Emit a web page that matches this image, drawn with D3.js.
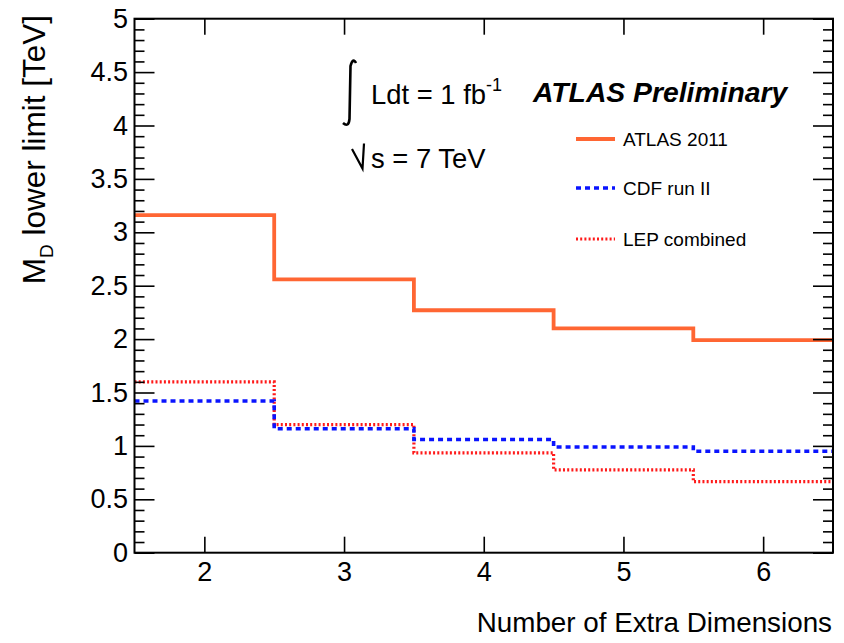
<!DOCTYPE html>
<html>
<head>
<meta charset="utf-8">
<script src="https://cdn.jsdelivr.net/npm/d3@7"></script>
<style>
  html, body { margin: 0; padding: 0; background: #fff; }
  svg { display: block; font-family: "Liberation Sans", Arial, Helvetica, sans-serif; }
</style>
</head>
<body>
<svg id="chart" width="844" height="643"></svg>
<script>
// Number of extra dimensions (bin centres, bin width 1)
const dimensions = [2, 3, 4, 5, 6];

// Lower limits on M_D in TeV per number of extra dimensions
const atlas2011 = [3.16, 2.56, 2.27, 2.10, 1.99];
const cdfRunII  = [1.42, 1.16, 1.06, 0.99, 0.95];
const lepCombined = [1.60, 1.20, 0.935, 0.775, 0.665];

const xTicks = [2, 3, 4, 5, 6];
const yMajorTicks = [0, 0.5, 1, 1.5, 2, 2.5, 3, 3.5, 4, 4.5, 5];

const legendLabels = ["ATLAS 2011", "CDF run II", "LEP combined"];

const svg = d3.select("#chart");
const frame = { left: 134.5, right: 833, top: 18.7, bottom: 552.7 };

const x = d3.scaleLinear().domain([1.5, 6.5]).range([frame.left, frame.right]);
const y = d3.scaleLinear().domain([0, 5]).range([frame.bottom, frame.top]);

const yMinor = d3.range(0, 50).map(i => i / 10).filter(v => Math.abs(v * 2 - Math.round(v * 2)) > 1e-6);

const FONT = 27;

// Step-histogram outline running from the first low edge to the last high edge
function stepPoints(values) {
  const pts = values.map((v, i) => [dimensions[i] - 0.5, v]);
  pts.push([dimensions[dimensions.length - 1] + 0.5, values[values.length - 1]]);
  return pts;
}
const stepLine = d3.line()
  .x(d => x(d[0]))
  .y(d => y(d[1]))
  .curve(d3.curveStepAfter);

const series = [
  { values: lepCombined, color: "#ff1a1a", width: 3.2, dash: "2,2.2" },
  { values: cdfRunII, color: "#0a14ff", width: 3.6, dash: "5,4" },
  { values: atlas2011, color: "#ff6633", width: 3.8, dash: null }
];

const gPlot = svg.append("g");
series.forEach(s => {
  gPlot.append("path")
    .attr("d", stepLine(stepPoints(s.values)))
    .attr("fill", "none")
    .attr("stroke", s.color)
    .attr("stroke-width", s.width)
    .attr("stroke-dasharray", s.dash)
    .attr("stroke-linejoin", "miter");
});

// Axes with inward-pointing ticks on all four sides
function styleAxis(g) {
  g.select(".domain").remove();
  g.selectAll(".tick line").attr("stroke", "#000").attr("stroke-width", 1.6);
  g.selectAll(".tick text")
    .attr("fill", "#000")
    .style("font-size", FONT + "px")
    .style("font-family", "'Liberation Sans', Arial, Helvetica, sans-serif");
}

svg.append("g")
  .attr("transform", `translate(0,${frame.bottom})`)
  .call(d3.axisBottom(x).tickValues(xTicks).tickSize(-16).tickPadding(9).tickFormat(d3.format("d")))
  .call(styleAxis);

svg.append("g")
  .attr("transform", `translate(0,${frame.top})`)
  .call(d3.axisTop(x).tickValues(xTicks).tickSize(-16).tickFormat(""))
  .call(styleAxis);

svg.append("g")
  .attr("transform", `translate(${frame.left},0)`)
  .call(d3.axisLeft(y).tickValues(yMajorTicks).tickSize(-20).tickPadding(6.5).tickFormat(d => d3.format("")(d)))
  .call(styleAxis);

svg.append("g")
  .attr("transform", `translate(${frame.left},0)`)
  .call(d3.axisLeft(y).tickValues(yMinor).tickSize(-10).tickFormat(""))
  .call(styleAxis);

svg.append("g")
  .attr("transform", `translate(${frame.right},0)`)
  .call(d3.axisRight(y).tickValues(yMajorTicks).tickSize(-20).tickFormat(""))
  .call(styleAxis);

svg.append("g")
  .attr("transform", `translate(${frame.right},0)`)
  .call(d3.axisRight(y).tickValues(yMinor).tickSize(-10).tickFormat(""))
  .call(styleAxis);

// Frame
svg.append("rect")
  .attr("x", frame.left).attr("y", frame.top)
  .attr("width", frame.right - frame.left).attr("height", frame.bottom - frame.top)
  .attr("fill", "none").attr("stroke", "#000").attr("stroke-width", 2);

// Axis titles
svg.append("text")
  .attr("x", 832).attr("y", 632)
  .attr("text-anchor", "end")
  .style("font-size", "27.8px")
  .text("Number of Extra Dimensions");

const yTitle = svg.append("text")
  .attr("transform", "translate(44.5,15) rotate(-90)")
  .attr("text-anchor", "end")
  .style("font-size", "31.5px");
yTitle.append("tspan").text("M");
yTitle.append("tspan").attr("dy", 8).style("font-size", "19px").text("D");
yTitle.append("tspan").attr("dy", -8).text(" lower limit [TeV]");

// Luminosity and energy labels
svg.append("path")
  .attr("d", "M356,63 Q353,57 350.5,66 L349.5,119 Q348.5,128 343,123")
  .attr("fill", "none").attr("stroke", "#000").attr("stroke-width", 2.6);

const lumi = svg.append("text")
  .attr("x", 371).attr("y", 104)
  .style("font-size", "27.4px");
lumi.append("tspan").text("Ldt = 1 fb");
lumi.append("tspan").attr("dy", -13).style("font-size", "18px").text("-1");

svg.append("path")
  .attr("d", "M352,149 L362.5,168.5 L364,143.5")
  .attr("fill", "none").attr("stroke", "#000").attr("stroke-width", 2.2);
svg.append("text")
  .attr("x", 371).attr("y", 168)
  .style("font-size", "27.4px")
  .text("s = 7 TeV");

svg.append("text")
  .attr("x", 533).attr("y", 102)
  .style("font-size", "28.3px")
  .style("font-weight", "bold")
  .style("font-style", "italic")
  .text("ATLAS Preliminary");

// Legend
const legendY = [139, 188, 239];
const legendSeries = [series[2], series[1], series[0]];
legendLabels.forEach((label, i) => {
  const s = legendSeries[i];
  svg.append("line")
    .attr("x1", 576).attr("x2", 615)
    .attr("y1", legendY[i]).attr("y2", legendY[i])
    .attr("stroke", s.color)
    .attr("stroke-width", s.width)
    .attr("stroke-dasharray", s.dash);
  svg.append("text")
    .attr("x", 623).attr("y", legendY[i] + 7)
    .style("font-size", "19px")
    .text(label);
});
</script>
</body>
</html>
